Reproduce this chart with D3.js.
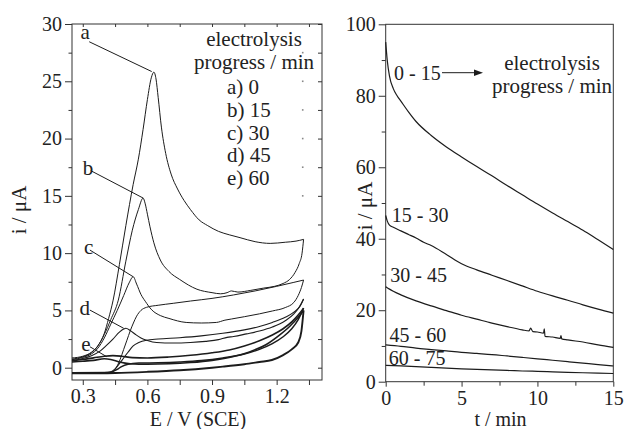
<!DOCTYPE html>
<html><head><meta charset="utf-8">
<script src="https://cdn.jsdelivr.net/npm/d3@7/dist/d3.min.js"></script>
<style>
html,body{margin:0;padding:0;background:#fff;}
svg{display:block;}
text{font-family:"Liberation Serif","Times New Roman",serif;fill:#222;}
</style></head>
<body>
<script>
// ---------- LEFT PANEL DATA: cyclic voltammograms, [E / V, i / µA] ----------
// curve a (peak 25.8 µA)
const cvA_peak = [[0.25,0.85],[0.30,1.0],[0.34,1.35],[0.37,1.9],[0.40,3.0],[0.42,4.3],[0.441,5.9],[0.47,9.0],[0.50,12.4],[0.534,16.0],[0.558,18.2],[0.58,20.8],[0.60,23.4],[0.618,25.3],[0.630,25.8],[0.64,25.2],[0.65,23.6],[0.665,21.0],[0.685,18.7],[0.71,16.9],[0.74,15.6],[0.77,14.6],[0.80,13.8],[0.84,12.9],[0.88,12.4],[0.93,11.9],[0.98,11.6],[1.03,11.35],[1.10,11.0],[1.17,10.85],[1.24,10.95],[1.29,11.05],[1.325,11.2]];
const cvA_loop = [[0.25,0.75],[0.30,0.95],[0.34,1.3],[0.37,1.9],[0.40,2.9],[0.43,4.2],[0.465,5.9],[0.50,9.3],[0.53,12.0],[0.558,13.8],[0.58,14.8],[0.59,14.3],[0.60,13.4],[0.612,12.3],[0.63,10.9],[0.66,9.4],[0.70,8.4],[0.75,7.7],[0.83,6.85],[0.90,6.55],[0.94,6.45],[0.97,6.55],[0.99,6.7],[1.02,6.6],[1.08,6.75],[1.14,6.95],[1.19,7.1],[1.23,7.35],[1.26,7.7],[1.285,8.3],[1.305,9.1],[1.318,10.0],[1.325,11.2]];
// curve b
const cvB_fwd = [[0.25,-0.45],[0.35,-0.45],[0.42,-0.42],[0.44,-0.38],[0.455,0.0],[0.473,0.7],[0.49,1.6],[0.505,2.4],[0.52,3.2],[0.535,3.9],[0.55,4.5],[0.57,5.0],[0.596,5.27],[0.65,5.45],[0.72,5.62],[0.80,5.82],[0.90,6.05],[1.00,6.35],[1.10,6.7],[1.20,7.1],[1.28,7.45],[1.325,7.65]];
const cvB_rev = [[0.25,0.7],[0.30,0.9],[0.34,1.2],[0.37,1.7],[0.40,2.6],[0.43,3.8],[0.46,5.0],[0.49,6.3],[0.515,7.4],[0.534,7.94],[0.55,7.3],[0.57,6.4],[0.59,5.8],[0.62,5.05],[0.66,4.55],[0.70,4.3],[0.78,3.95],[0.85,3.9],[0.92,3.95],[0.96,4.15],[0.99,4.25],[1.05,4.45],[1.12,4.7],[1.18,4.95],[1.24,5.25],[1.28,5.7],[1.30,6.3],[1.315,7.0],[1.325,7.65]];
// curve c
const cvC_fwd = [[0.25,-0.45],[0.40,-0.43],[0.43,-0.36],[0.45,-0.1],[0.47,0.35],[0.49,0.85],[0.51,1.35],[0.534,1.9],[0.56,2.2],[0.596,2.4],[0.65,2.5],[0.75,2.62],[0.85,2.78],[0.95,3.0],[1.05,3.3],[1.12,3.6],[1.18,3.95],[1.24,4.4],[1.28,4.85],[1.31,5.4],[1.325,6.0]];
const cvC_rev = [[0.25,0.6],[0.30,0.8],[0.34,1.05],[0.38,1.45],[0.41,1.95],[0.44,2.5],[0.47,3.1],[0.49,3.38],[0.50,3.44],[0.52,3.25],[0.545,2.9],[0.57,2.6],[0.60,2.38],[0.643,2.2],[0.72,2.15],[0.80,2.2],[0.87,2.3],[0.93,2.45],[0.97,2.65],[1.0,2.72],[1.06,2.95],[1.12,3.2],[1.18,3.55],[1.24,4.1],[1.28,4.7],[1.305,5.3],[1.325,6.0]];
// curve d
const cvD_fwd = [[0.25,-0.45],[0.42,-0.43],[0.44,-0.32],[0.46,-0.15],[0.48,0.1],[0.51,0.3],[0.56,0.4],[0.65,0.43],[0.75,0.5],[0.85,0.62],[0.95,0.85],[1.05,1.2],[1.12,1.6],[1.18,2.1],[1.23,2.7],[1.27,3.4],[1.30,4.2],[1.325,5.2]];
const cvD_rev = [[0.25,0.6],[0.30,0.72],[0.35,0.86],[0.40,1.0],[0.44,1.05],[0.48,1.0],[0.53,0.88],[0.60,0.85],[0.70,0.93],[0.80,1.08],[0.90,1.3],[0.98,1.55],[1.05,1.9],[1.12,2.35],[1.18,2.85],[1.23,3.4],[1.27,4.0],[1.30,4.6],[1.325,5.2]];
// curve e
const cvE_fwd = [[0.25,-0.5],[0.45,-0.46],[0.60,-0.36],[0.75,-0.22],[0.90,0.0],[0.95,0.09],[1.05,0.3],[1.12,0.5],[1.178,0.67],[1.23,1.1],[1.27,1.6],[1.30,2.2],[1.315,3.2],[1.325,5.0]];
const cvE_rev = [[0.25,0.5],[0.30,0.56],[0.35,0.64],[0.40,0.78],[0.43,0.72],[0.47,0.5],[0.52,0.35],[0.60,0.3],[0.70,0.34],[0.80,0.45],[0.90,0.64],[1.00,0.98],[1.08,1.42],[1.15,2.0],[1.21,2.8],[1.26,3.6],[1.30,4.4],[1.325,5.0]];
const cvBranches = [cvA_peak, cvA_loop, cvB_fwd, cvB_rev, cvC_fwd, cvC_rev, cvD_fwd, cvD_rev, cvE_fwd, cvE_rev];

// curve labels and leader lines (label position, target point) in data units
const cvLabels = ["a","b","c","d","e"];
const cvLabelPos = [[0.333,28.7],[0.349,16.8],[0.349,9.9],[0.333,4.6],[0.336,1.5]];
const cvLeaderFrom = [[0.330,28.45],[0.337,17.2],[0.333,10.27],[0.333,5.03],[0.333,1.83]];
const cvLeaderTo = [[0.620,25.85],[0.581,14.8],[0.534,7.94],[0.490,3.44],[0.411,0.96]];
const legendTitle = ["electrolysis","progress / min"];
const legendItems = ["a) 0","b) 15","c) 30","d) 45","e) 60"];

const eTicks = [0.3,0.6,0.9,1.2];
const eMinor = [0.45,0.75,1.05,1.35];
const iLeftTicks = [0,5,10,15,20,25,30];
const iLeftMinor = [2.5,7.5,12.5,17.5,22.5,27.5];
const vertexMarks = [15,17.5,20,22.5,25,27.5];

// ---------- RIGHT PANEL DATA: chronoamperograms, [t / min, i / µA] ----------
const ca_0_15 = [[0,95],[0.1,90],[0.25,85.5],[0.5,82],[0.75,80],[1,78.5],[1.5,75.5],[2,72.8],[3,68.9],[4,65.7],[5,62.9],[6,60.2],[7,57.6],[8,54.9],[9,52.3],[10,49.7],[11,47.2],[12,44.8],[13,42.4],[14,39.7],[15,37.0]];
const ca_15_30 = [[0,46.5],[0.1,45],[0.25,43.8],[0.5,43.2],[1,42.2],[1.5,41.2],[2,40.2],[2.5,39.0],[3,38.1],[4,35.6],[5,33.0],[6,31.3],[7,29.8],[8,28.3],[9,26.8],[10,25.3],[11,24.0],[12,22.8],[13,21.5],[14,20.3],[15,19.2]];
const ca_30_45 = [[0,26.6],[0.25,25.9],[0.5,25.3],[1,24.3],[2,22.6],[3,21.2],[4,19.9],[5,18.6],[6,17.5],[7,16.4],[8,15.4],[9,14.5],[9.45,14.2],[9.55,15.0],[9.7,14.0],[10,13.9],[10.4,13.6],[10.45,14.8],[10.5,12.7],[11,12.5],[11.5,12.1],[11.55,12.9],[11.6,12.0],[12,11.7],[13,11.1],[14,10.3],[15,9.6]];
const ca_45_60 = [[0,10.3],[1,9.9],[2,9.4],[3,9.0],[4,8.6],[5,8.2],[6,7.9],[7,7.6],[8,7.2],[9,6.8],[10,6.4],[11,6.0],[12,5.6],[13,5.2],[14,4.8],[15,4.4]];
const ca_60_75 = [[0,4.6],[1,4.4],[2,4.2],[3,4.0],[4,3.8],[5,3.6],[6,3.45],[7,3.3],[8,3.15],[9,3.0],[10,2.9],[11,2.75],[12,2.6],[13,2.5],[14,2.4],[15,2.3]];
const caSeries = [ca_0_15, ca_15_30, ca_30_45, ca_45_60, ca_60_75];
const caLabels = ["0 - 15","15 - 30","30 - 45","45 - 60","60 - 75"];
const caLabelPos = [[0.55,84.4],[0.4,44.6],[0.3,28.0],[0.25,11.2],[0.2,4.7]];
const caTitle = ["electrolysis","progress / min"];

const tTicks = [0,5,10,15];
const tMinor = [2.5,7.5,12.5];
const iRightTicks = [0,20,40,60,80,100];
const iRightMinor = [10,30,50,70,90];

// ---------- DRAWING ----------
const W = 625, H = 429;
const ink = "#1c1c1c", frame = "#333";
const svg = d3.select("body").append("svg").attr("width", W).attr("height", H);

const xL = d3.scaleLinear().domain([0.25, 1.4105]).range([72, 322]);
const yL = d3.scaleLinear().domain([-1.074, 30]).range([380, 24]);
const xR = d3.scaleLinear().domain([0, 15]).range([385.7, 613.3]);
const yR = d3.scaleLinear().domain([0, 100]).range([381.7, 24.3]);

function styleAxis(g){
  g.selectAll(".domain").remove();
  g.selectAll("line").attr("stroke", frame).attr("stroke-width", 1);
  g.selectAll("text").style("font-family", '"Liberation Serif","Times New Roman",serif').style("font-size","20px").attr("fill","#222");
}

// ----- Left panel -----
const gL = svg.append("g");
gL.append("g").attr("transform","translate(0,380)")
  .call(d3.axisBottom(xL).tickValues(eTicks).tickFormat(d3.format(".1f")).tickSize(5).tickPadding(4)).call(styleAxis);
gL.append("g").attr("transform","translate(0,380)")
  .call(d3.axisBottom(xL).tickValues(eMinor).tickFormat("").tickSize(5)).call(styleAxis);
gL.append("g").attr("transform","translate(0,24)")
  .call(d3.axisBottom(xL).tickValues(eTicks.concat(eMinor)).tickFormat("").tickSize(3)).call(styleAxis);
gL.append("g").attr("transform","translate(72,0)")
  .call(d3.axisLeft(yL).tickValues(iLeftTicks).tickSize(7).tickPadding(3)).call(styleAxis);
gL.append("g").attr("transform","translate(72,0)")
  .call(d3.axisLeft(yL).tickValues(iLeftMinor).tickFormat("").tickSize(3.5)).call(styleAxis);
gL.append("g").attr("transform","translate(322,0)")
  .call(d3.axisLeft(yL).tickValues(iLeftTicks.concat(iLeftMinor)).tickFormat("").tickSize(4)).call(styleAxis);
gL.append("rect").attr("x",72).attr("y",24).attr("width",250).attr("height",356)
  .attr("fill","none").attr("stroke",frame).attr("stroke-width",1);

// faint vertex marks
gL.selectAll("rect.vm").data(vertexMarks).join("rect").attr("class","vm")
  .attr("x", xL(1.321)-0.8).attr("y", d=>yL(d)-0.8).attr("width",1.6).attr("height",1.6).attr("fill","#888");

const lineL = d3.line().x(d=>xL(d[0])).y(d=>yL(d[1])).curve(d3.curveMonotoneX);
const cvWidths = [1,1,1,1,1.1,1.1,1.5,1.6,1.9,1.6];
gL.selectAll("path.cv").data(cvBranches).join("path").attr("class","cv")
  .attr("d", lineL).attr("fill","none").attr("stroke",ink)
  .attr("stroke-width",(d,i)=>cvWidths[i]).attr("stroke-linejoin","round");

// leaders and labels
gL.selectAll("line.ld").data(cvLabels).join("line").attr("class","ld")
  .attr("x1",(d,i)=>xL(cvLeaderFrom[i][0])).attr("y1",(d,i)=>yL(cvLeaderFrom[i][1]))
  .attr("x2",(d,i)=>xL(cvLeaderTo[i][0])).attr("y2",(d,i)=>yL(cvLeaderTo[i][1]))
  .attr("stroke",ink).attr("stroke-width",1);
gL.selectAll("text.lb").data(cvLabels).join("text").attr("class","lb")
  .attr("x",(d,i)=>xL(cvLabelPos[i][0])).attr("y",(d,i)=>yL(cvLabelPos[i][1]))
  .attr("text-anchor","end").style("font-size","21px").text(d=>d);

// legend
gL.selectAll("text.lt").data(legendTitle).join("text").attr("class","lt")
  .attr("x",254).attr("y",(d,i)=>46+i*22.5).attr("text-anchor","middle").style("font-size","21px").text(d=>d);
gL.selectAll("text.li").data(legendItems).join("text").attr("class","li")
  .attr("x",227).attr("y",(d,i)=>94+i*22.8).attr("text-anchor","start").style("font-size","21px").text(d=>d);

// axis titles
gL.append("text").attr("x",198).attr("y",426).attr("text-anchor","middle").style("font-size","20px").text("E / V (SCE)");
gL.append("text").attr("transform","translate(26,210) rotate(-90)").attr("text-anchor","middle").style("font-size","21px").text("i / μA");

// ----- Right panel -----
const gR = svg.append("g");
gR.append("g").attr("transform","translate(0,381.7)")
  .call(d3.axisBottom(xR).tickValues(tTicks).tickFormat(d3.format("d")).tickSize(5).tickPadding(4)).call(styleAxis);
gR.append("g").attr("transform","translate(0,381.7)")
  .call(d3.axisBottom(xR).tickValues(tMinor).tickFormat("").tickSize(4)).call(styleAxis);
gR.append("g").attr("transform","translate(385.7,0)")
  .call(d3.axisLeft(yR).tickValues(iRightTicks).tickSize(7).tickPadding(3)).call(styleAxis);
gR.append("g").attr("transform","translate(385.7,0)")
  .call(d3.axisLeft(yR).tickValues(iRightMinor).tickFormat("").tickSize(4)).call(styleAxis);
gR.append("rect").attr("x",385.7).attr("y",24.3).attr("width",227.6).attr("height",357.4)
  .attr("fill","none").attr("stroke",frame).attr("stroke-width",1);

const lineR = d3.line().x(d=>xR(d[0])).y(d=>yR(d[1])).curve(d3.curveMonotoneX);
gR.selectAll("path.ca").data(caSeries).join("path").attr("class","ca")
  .attr("d", lineR).attr("fill","none").attr("stroke",ink).attr("stroke-width",1.2).attr("stroke-linejoin","round");

gR.selectAll("text.cl").data(caLabels).join("text").attr("class","cl")
  .attr("x",(d,i)=>xR(caLabelPos[i][0])).attr("y",(d,i)=>yR(caLabelPos[i][1]))
  .style("font-size","20px").text(d=>d);

// arrow
gR.append("line").attr("x1",442).attr("y1",72.7).attr("x2",476).attr("y2",72.7).attr("stroke",ink).attr("stroke-width",1);
gR.append("path").attr("d","M483,72.7 L474,69.5 L474,75.9 Z").attr("fill",ink);
gR.selectAll("text.ct").data(caTitle).join("text").attr("class","ct")
  .attr("x",552).attr("y",(d,i)=>70+i*23).attr("text-anchor","middle").style("font-size","21px").text(d=>d);

gR.append("text").attr("x",500.5).attr("y",426).attr("text-anchor","middle").style("font-size","20px").text("t / min");
gR.append("text").attr("transform","translate(372,206) rotate(-90)").attr("text-anchor","middle").style("font-size","21px").text("i / μA");
</script>
</body></html>
